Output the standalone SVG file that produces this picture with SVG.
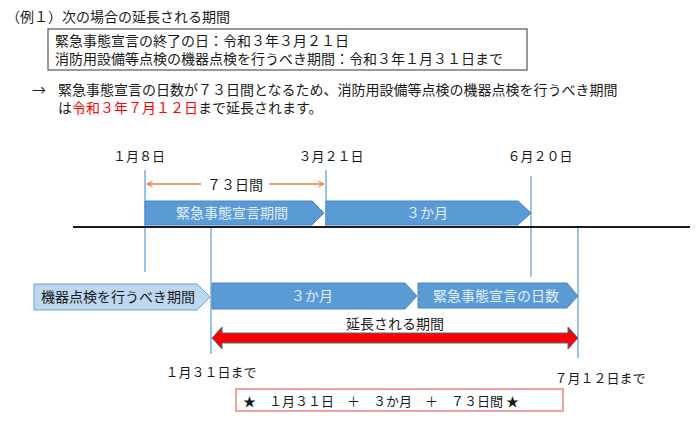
<svg xmlns="http://www.w3.org/2000/svg" width="700" height="422" viewBox="0 0 700 422">
<defs>
<style>
text{font-family:"Noto Sans CJK JP","Noto Sans CJK SC",sans-serif;fill:#1a1a1a;}
.t14{font-size:14px;}
.t13{font-size:13px;}
.red{fill:#ff0000;}
.onblue{fill:#e3eefa;font-size:14px;}
.blue{fill:#5b9bd5;stroke:#4a88c2;stroke-width:1;}
.lblue{fill:#bdd7ee;stroke:#6a9fd4;stroke-width:1;}
.vline{stroke:#7aaee0;stroke-width:1.5;fill:none;}
.orange{stroke:#ed7d31;stroke-width:1.5;fill:none;}
</style>
<marker id="oa" viewBox="0 0 10 10" refX="9" refY="5" markerWidth="7" markerHeight="7" orient="auto-start-reverse" markerUnits="userSpaceOnUse">
<path d="M1,1 L9,5 L1,9" fill="none" stroke="#ed7d31" stroke-width="1.5"/>
</marker>
</defs>
<rect width="700" height="422" fill="#ffffff"/>

<g id="header">
<text class="t14" x="6" y="22">（例１）次の場合の延長される期間</text>
<rect x="48" y="29" width="479" height="41" fill="none" stroke="#555" stroke-width="1.2"/>
<text class="t14"><tspan x="55" y="46">緊急事態宣言の終了の日：令和３年３月２１日</tspan><tspan x="55" y="64">消防用設備等点検の機器点検を行うべき期間：令和３年１月３１日まで</tspan></text>
<text class="t14" x="32" y="95">→</text>
<text class="t14"><tspan x="58" y="95">緊急事態宣言の日数が７３日間となるため、消防用設備等点検の機器点検を行うべき期間</tspan><tspan x="58" y="113">は</tspan><tspan class="red">令和３年７月１２日</tspan><tspan>まで延長されます。</tspan></text>
</g>

<g id="connectors">
<line class="vline" x1="145" y1="170" x2="145" y2="272"/>
<line class="vline" x1="326" y1="170" x2="326" y2="226"/>
<line class="vline" x1="531" y1="176" x2="531" y2="277"/>
<line class="vline" x1="211" y1="227" x2="211" y2="354"/>
<line class="vline" x1="578" y1="227" x2="578" y2="358"/>
<line x1="73" y1="227" x2="690" y2="227" stroke="#1a1a1a" stroke-width="2.2"/>
<line class="orange" x1="147" y1="184" x2="201" y2="184" marker-start="url(#oa)"/>
<line class="orange" x1="269" y1="184" x2="324" y2="184" marker-end="url(#oa)"/>
</g>

<g id="dates">
<text class="t13" x="139" y="161" text-anchor="middle">１月８日</text>
<text class="t13" x="331" y="161" text-anchor="middle">３月２１日</text>
<text class="t13" x="540" y="161" text-anchor="middle">６月２０日</text>
<text class="t14" x="235" y="190" text-anchor="middle">７３日間</text>
</g>

<g id="node-emergency">
<polygon class="blue" points="145,201 312,201 324,213 312,225 145,225"/>
<text class="onblue" x="232" y="218" text-anchor="middle">緊急事態宣言期間</text>
</g>
<g id="node-3m-top">
<polygon class="blue" points="326,201 518,201 531,213 518,225 326,225"/>
<text class="onblue" x="427" y="218" text-anchor="middle">３か月</text>
</g>

<g id="node-inspection">
<polygon class="lblue" points="34,284 197,284 210,297 197,310 34,310"/>
<text class="t14" x="118" y="302" text-anchor="middle" fill="#333">機器点検を行うべき期間</text>
</g>
<g id="node-3m-bottom">
<polygon class="blue" points="212,283 405,283 417,296 405,309 212,309"/>
<text class="onblue" x="312" y="301" text-anchor="middle">３か月</text>
</g>
<g id="node-days">
<polygon class="blue" points="418,283 567,283 578,296 567,308 418,308"/>
<text class="onblue" x="496" y="301" text-anchor="middle">緊急事態宣言の日数</text>
</g>

<g id="extension">
<polygon points="212,338 222,327 222,333 568,333 568,327 578,338 568,349 568,343 222,343 222,349" fill="#ff0000" stroke="#41719c" stroke-width="1"/>
<text class="t14" x="395" y="329" text-anchor="middle">延長される期間</text>
</g>

<g id="labels-bottom">
<text class="t13" x="211" y="377" text-anchor="middle">１月３１日まで</text>
<text class="t13" x="600" y="383" text-anchor="middle">７月１２日まで</text>
</g>

<g id="formula">
<rect x="236" y="389" width="327" height="22" fill="#ffffff" stroke="#f08080" stroke-width="1.5"/>
<text class="t13" x="243" y="406">★　１月３１日　＋　３か月　＋　７３日間 ★</text>
</g>
</svg>
